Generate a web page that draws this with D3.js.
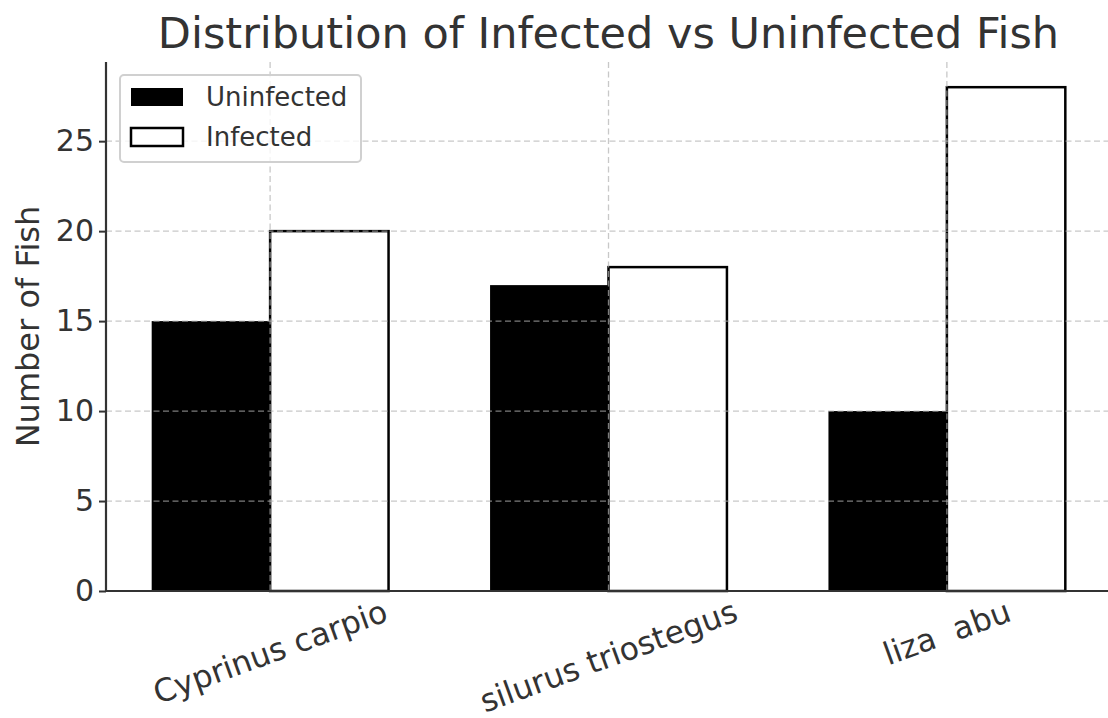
<!DOCTYPE html>
<html>
<head>
<meta charset="utf-8">
<script src="https://cdn.jsdelivr.net/npm/d3@7"></script>
<style>
  html, body { margin: 0; padding: 0; background: #fff; }
  svg { display: block; font-family: "DejaVu Sans", sans-serif; }
</style>
</head>
<body>
<svg id="chart" width="1108" height="718"></svg>
<script>
const categories = ["Cyprinus carpio", "silurus triostegus", "liza  abu"];
const uninfected = [15, 17, 10];
const infected = [20, 18, 28];
const yTicks = [0, 5, 10, 15, 20, 25];
const seriesNames = ["Uninfected", "Infected"];
const titleText = "Distribution of Infected vs Uninfected Fish";
const yLabelText = "Number of Fish";

const svg = d3.select("#chart");
const textColor = "#333";
const margin = { left: 106, right: 1111, top: 62, bottom: 591 };
const barW = 0.35;

const x = d3.scaleLinear()
  .domain([-barW - 0.135, categories.length - 1 + barW + 0.135])
  .range([margin.left, margin.right]);
const yMax = d3.max(infected.concat(uninfected)) * 1.05;
const y = d3.scaleLinear().domain([0, yMax]).range([margin.bottom, margin.top]);

const data = categories.map((c, i) => ({ c, i, u: uninfected[i], inf: infected[i] }));

// Bars
const gBars = svg.append("g");
gBars.selectAll("rect.unf").data(data).join("rect")
  .attr("class", "unf")
  .attr("x", d => x(d.i - barW))
  .attr("width", d => x(d.i) - x(d.i - barW))
  .attr("y", d => y(d.u))
  .attr("height", d => y(0) - y(d.u))
  .attr("fill", "#000");
gBars.selectAll("rect.inf").data(data).join("rect")
  .attr("class", "inf")
  .attr("x", d => x(d.i))
  .attr("width", d => x(d.i + barW) - x(d.i))
  .attr("y", d => y(d.inf))
  .attr("height", d => y(0) - y(d.inf))
  .attr("fill", "#fff")
  .attr("stroke", "#000")
  .attr("stroke-width", 2.5);

// Grid (drawn above bars)
const gGrid = svg.append("g").attr("stroke", "#b0b0b0").attr("stroke-opacity", 0.7)
  .attr("stroke-width", 1.3).attr("stroke-dasharray", "6,3.5");
gGrid.selectAll("line.h").data(yTicks).join("line")
  .attr("x1", margin.left).attr("x2", margin.right)
  .attr("y1", d => y(d)).attr("y2", d => y(d));
gGrid.selectAll("line.v").data(categories.map((c, i) => i)).join("line")
  .attr("x1", d => x(d)).attr("x2", d => x(d))
  .attr("y1", margin.top).attr("y2", margin.bottom);

// Y axis
const yAxis = d3.axisLeft(y).tickValues(yTicks).tickSize(7).tickPadding(5);
const gy = svg.append("g").attr("transform", `translate(${margin.left},0)`).call(yAxis);
gy.select(".domain").remove();
gy.selectAll(".tick line").attr("stroke", textColor).attr("stroke-width", 2);
gy.selectAll(".tick text").attr("fill", textColor).style("font-size", "30px")
  .style("font-family", "DejaVu Sans");

// Spines
svg.append("line").attr("x1", margin.left).attr("x2", margin.left)
  .attr("y1", margin.top).attr("y2", margin.bottom + 1)
  .attr("stroke", textColor).attr("stroke-width", 2.2);
svg.append("line").attr("x1", margin.left - 1).attr("x2", margin.right)
  .attr("y1", margin.bottom).attr("y2", margin.bottom)
  .attr("stroke", textColor).attr("stroke-width", 2.2);

// X tick labels, rotated 20deg, centered bbox
const angle = 20 * Math.PI / 180;
const fsX = 31.5;
const gx = svg.append("g");
categories.forEach((c, i) => {
  const t = gx.append("text")
    .attr("text-anchor", "middle")
    .attr("dominant-baseline", "central")
    .attr("fill", textColor)
    .style("font-size", fsX + "px")
    .style("white-space", "pre")
    .attr("xml:space", "preserve")
    .text(c);
  const w = t.node().getComputedTextLength();
  const h = fsX * 1.0;
  const H = w * Math.sin(angle) + h * Math.cos(angle);
  t.attr("transform", `translate(${x(i)},${margin.bottom + 4 + H / 2}) rotate(-20)`);
});

// Y label
svg.append("text")
  .attr("transform", `translate(39,${(margin.top + margin.bottom) / 2}) rotate(-90)`)
  .attr("text-anchor", "middle")
  .attr("fill", textColor)
  .style("font-size", "32px")
  .text(yLabelText);

// Title
svg.append("text")
  .attr("x", (margin.left + margin.right) / 2)
  .attr("y", 48)
  .attr("text-anchor", "middle")
  .attr("fill", textColor)
  .style("font-size", "43px")
  .text(titleText);

// Legend
const lg = svg.append("g");
lg.append("rect").attr("x", 120).attr("y", 75).attr("width", 241).attr("height", 87)
  .attr("rx", 4).attr("fill", "#fff").attr("fill-opacity", 0.8)
  .attr("stroke", "#d0d0d0").attr("stroke-width", 2);
seriesNames.forEach((s, i) => {
  const yy = 88 + i * 40;
  lg.append("rect").attr("x", 131).attr("y", yy).attr("width", 52).attr("height", 18)
    .attr("fill", i === 0 ? "#000" : "#fff")
    .attr("stroke", "#000").attr("stroke-width", i === 0 ? 0 : 2.5);
  lg.append("text").attr("x", 206).attr("y", yy + 9)
    .attr("dominant-baseline", "central")
    .attr("fill", textColor)
    .style("font-size", "26px")
    .text(s);
});
</script>
</body>
</html>
